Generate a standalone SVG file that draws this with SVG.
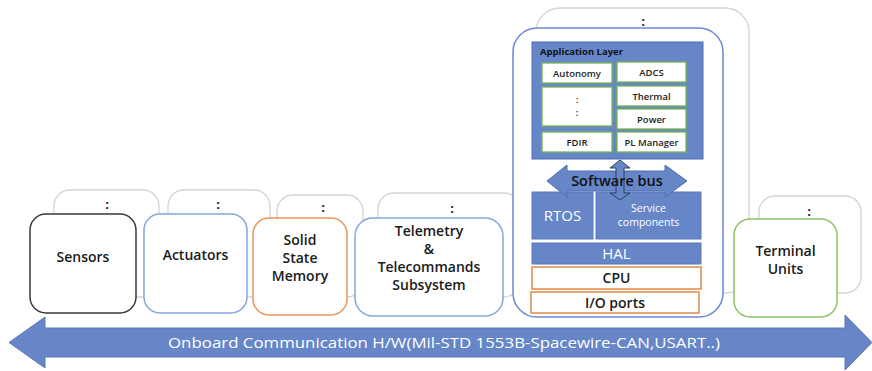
<svg xmlns="http://www.w3.org/2000/svg" width="872" height="371" viewBox="0 0 872 371">
<defs>
<style>
.bg{fill:#fff;stroke:#d4d4d4;stroke-width:1.3}
.node{fill:#fff;stroke-width:1.5}
.lbl{font-family:"Open Sans","Liberation Sans",sans-serif;font-size:14px;font-weight:600;fill:#1a1a1a;text-anchor:middle}
.dot{font-family:"Open Sans","Liberation Sans",sans-serif;font-size:13px;font-weight:700;fill:#222;text-anchor:middle}
.blue{fill:#6686c8;stroke:#5a78bb;stroke-width:1}
.app{fill:#fff;stroke:#79b452;stroke-width:1.3}
.sm{font-family:"Open Sans","Liberation Sans",sans-serif;font-size:9.5px;font-weight:600;fill:#222;text-anchor:middle}
.wt{font-family:"Open Sans","Liberation Sans",sans-serif;fill:#fff;text-anchor:middle}
.org{fill:#fff;stroke:#e08a48;stroke-width:1.5}
</style>
</defs>

<g id="backcards">
<rect class="bg" x="54" y="190" width="105" height="107" rx="16"/>
<rect class="bg" x="168" y="190" width="102" height="107" rx="16"/>
<rect class="bg" x="277" y="195" width="86" height="102" rx="16"/>
<rect class="bg" x="378" y="193" width="142" height="104" rx="16"/>
<rect class="bg" x="536" y="8" width="213" height="285" rx="24"/>
<rect class="bg" x="759" y="196" width="102" height="97" rx="16"/>
<text class="dot" x="107" y="209">:</text>
<text class="dot" x="218" y="209">:</text>
<text class="dot" x="323" y="212">:</text>
<text class="dot" x="452" y="213">:</text>
<text class="dot" x="643" y="26">:</text>
<text class="dot" x="809" y="216">:</text>
</g>

<g id="sensors">
<rect class="node" x="30" y="214" width="106" height="99" rx="16" stroke="#3a3a3a"/>
<text class="lbl" x="83" y="262">Sensors</text>
</g>

<g id="actuators">
<rect class="node" x="144" y="214" width="103" height="99" rx="16" stroke="#85a6dd"/>
<text class="lbl" x="195.5" y="260">Actuators</text>
</g>

<g id="ssm">
<rect class="node" x="253" y="218" width="94" height="97" rx="16" stroke="#e8955a"/>
<text class="lbl" x="300" y="245">Solid</text>
<text class="lbl" x="300" y="263">State</text>
<text class="lbl" x="300" y="281">Memory</text>
</g>

<g id="telemetry">
<rect class="node" x="355" y="218" width="148" height="98" rx="18" stroke="#85a6dd"/>
<text class="lbl" x="429" y="236">Telemetry</text>
<text class="lbl" x="429" y="254">&amp;</text>
<text class="lbl" x="429" y="272">Telecommands</text>
<text class="lbl" x="429" y="290">Subsystem</text>
</g>

<g id="obc">
<rect class="node" x="513" y="28" width="210" height="289" rx="24" stroke="#6f86d6"/>
</g>

<g id="application-layer">
<rect x="532" y="42" width="171" height="117" fill="#6686c8" stroke="#4f6db3" stroke-width="1"/>
<text x="540" y="55" font-family="Open Sans, Liberation Sans, sans-serif" font-size="9.5" font-weight="700" fill="#111">Application Layer</text>
<rect class="app" x="542" y="63" width="70" height="20"/>
<text class="sm" x="577" y="77">Autonomy</text>
<rect class="app" x="617" y="62" width="69" height="20"/>
<text class="sm" x="651.5" y="76">ADCS</text>
<rect class="app" x="542" y="87" width="70" height="39"/>
<text class="sm" x="577" y="103">:</text>
<text class="sm" x="577" y="116">:</text>
<rect class="app" x="617" y="86" width="69" height="20"/>
<text class="sm" x="651.5" y="100">Thermal</text>
<rect class="app" x="617" y="109" width="69" height="20"/>
<text class="sm" x="651.5" y="123">Power</text>
<rect class="app" x="542" y="132" width="70" height="20"/>
<text class="sm" x="577" y="146">FDIR</text>
<rect class="app" x="617" y="132" width="69" height="20"/>
<text class="sm" x="651.5" y="146" font-size="9">PL Manager</text>
</g>

<g id="rtos">
<rect class="blue" x="532" y="192" width="61" height="47"/>
<text class="wt" x="562.5" y="221" font-size="15">RTOS</text>
</g>

<g id="service-components">
<rect class="blue" x="596" y="192" width="105" height="47"/>
<text class="wt" x="648.5" y="212" font-size="10.5" fill="#dfe6f5">Service</text>
<text class="wt" x="648.5" y="226" font-size="10.5" fill="#dfe6f5">components</text>
</g>

<g id="hal">
<rect class="blue" x="532" y="243" width="169" height="21"/>
<text class="wt" x="616.5" y="259" font-size="15">HAL</text>
</g>

<g id="cpu">
<rect class="org" x="532" y="267" width="169" height="22"/>
<text class="lbl" x="616.5" y="283" font-weight="500" font-size="15">CPU</text>
</g>

<g id="io-ports">
<rect class="org" x="531" y="292" width="168" height="21"/>
<text class="lbl" x="615" y="308" font-weight="500" font-size="15">I/O ports</text>
</g>

<g id="terminal-units">
<rect class="node" x="734" y="219" width="103" height="98" rx="16" stroke="#8cc168"/>
<text class="lbl" x="785.5" y="256">Terminal</text>
<text class="lbl" x="785.5" y="274">Units</text>
</g>

<g id="connectors">
<path d="M547 181 L567 165 L567 171 L665 171 L665 165 L687 181 L665 197 L665 191 L567 191 L567 197 Z" fill="#6686c8" stroke="#4f6db3" stroke-width="1"/>
<path d="M620 160 L630 168 L624 168 L624 193 L630 193 L620 200 L610 193 L616 193 L616 168 L610 168 Z" fill="#6686c8" stroke="#2f3f66" stroke-width="1"/>
<text x="617" y="186" font-family="Open Sans, Liberation Sans, sans-serif" font-size="14.5" font-weight="600" fill="#111" text-anchor="middle">Software bus</text>
<path d="M9 342.5 L45 317 L45 328 L845 328 L845 315 L872 342.5 L845 370 L845 357 L45 357 L45 368 Z" fill="#6686c8" stroke="#5a78bb" stroke-width="1"/>
<text x="444" y="347.5" font-family="Open Sans, Liberation Sans, sans-serif" font-size="14" fill="#fff" text-anchor="middle" textLength="552" lengthAdjust="spacingAndGlyphs">Onboard Communication H/W(Mil-STD 1553B-Spacewire-CAN,USART..)</text>
</g>
</svg>
